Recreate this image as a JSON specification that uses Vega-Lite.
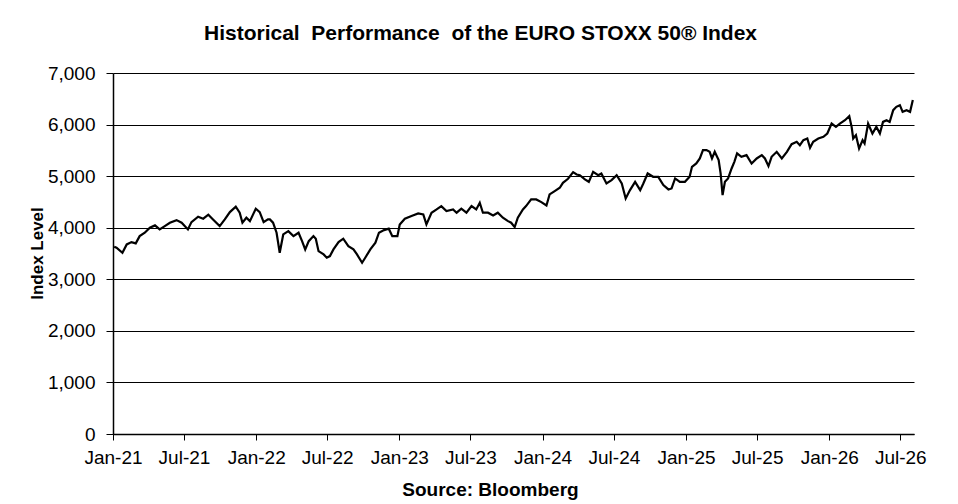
{
  "$schema": "https://vega.github.io/schema/vega-lite/v6.json",
  "width": 801,
  "height": 361,
  "autosize": {"type": "none"},
  "padding": {"left": 113, "top": 73, "right": 44, "bottom": 70},
  "background": "white",
  "title": {
    "text": "Historical \u00a0Performance \u00a0of the EURO STOXX 50® Index",
    "font": "Liberation Sans",
    "fontSize": 21,
    "fontWeight": "bold",
    "color": "black",
    "anchor": "middle",
    "frame": "group",
    "baseline": "alphabetic",
    "offset": 3,
    "dx": -33
  },
  "config": {
    "view": {"stroke": null},
    "font": "Liberation Sans"
  },
  "data": {
    "values": [
      {"d": "2021-01-04", "v": 3632}, {"d": "2021-01-10", "v": 3612}, {"d": "2021-01-25", "v": 3515}, {"d": "2021-02-05", "v": 3676},
      {"d": "2021-02-17", "v": 3721}, {"d": "2021-02-28", "v": 3696}, {"d": "2021-03-10", "v": 3837}, {"d": "2021-03-23", "v": 3903},
      {"d": "2021-04-05", "v": 4000}, {"d": "2021-04-18", "v": 4045}, {"d": "2021-04-30", "v": 3967}, {"d": "2021-05-13", "v": 4031},
      {"d": "2021-05-26", "v": 4097}, {"d": "2021-06-12", "v": 4147}, {"d": "2021-06-25", "v": 4097}, {"d": "2021-07-11", "v": 3967},
      {"d": "2021-07-20", "v": 4109}, {"d": "2021-08-06", "v": 4213}, {"d": "2021-08-19", "v": 4175}, {"d": "2021-09-01", "v": 4252},
      {"d": "2021-09-13", "v": 4161}, {"d": "2021-09-30", "v": 4031}, {"d": "2021-10-13", "v": 4161}, {"d": "2021-10-26", "v": 4303},
      {"d": "2021-11-10", "v": 4407}, {"d": "2021-11-20", "v": 4291}, {"d": "2021-11-27", "v": 4097}, {"d": "2021-12-07", "v": 4194},
      {"d": "2021-12-16", "v": 4128}, {"d": "2021-12-31", "v": 4368}, {"d": "2022-01-10", "v": 4303}, {"d": "2022-01-20", "v": 4109},
      {"d": "2022-01-31", "v": 4161}, {"d": "2022-02-05", "v": 4161}, {"d": "2022-02-13", "v": 4097}, {"d": "2022-02-22", "v": 3903},
      {"d": "2022-03-02", "v": 3515}, {"d": "2022-03-11", "v": 3870}, {"d": "2022-03-24", "v": 3934}, {"d": "2022-04-06", "v": 3837},
      {"d": "2022-04-19", "v": 3903}, {"d": "2022-04-28", "v": 3740}, {"d": "2022-05-06", "v": 3579}, {"d": "2022-05-15", "v": 3740},
      {"d": "2022-05-27", "v": 3837}, {"d": "2022-06-02", "v": 3787}, {"d": "2022-06-09", "v": 3546}, {"d": "2022-06-22", "v": 3482},
      {"d": "2022-06-30", "v": 3418}, {"d": "2022-07-08", "v": 3450}, {"d": "2022-07-17", "v": 3579}, {"d": "2022-07-30", "v": 3721},
      {"d": "2022-08-11", "v": 3787}, {"d": "2022-08-24", "v": 3643}, {"d": "2022-09-06", "v": 3579}, {"d": "2022-09-15", "v": 3482},
      {"d": "2022-09-28", "v": 3321}, {"d": "2022-10-06", "v": 3418}, {"d": "2022-10-19", "v": 3579}, {"d": "2022-11-01", "v": 3709},
      {"d": "2022-11-10", "v": 3903}, {"d": "2022-11-23", "v": 3953}, {"d": "2022-12-05", "v": 3981}, {"d": "2022-12-14", "v": 3837},
      {"d": "2022-12-27", "v": 3837}, {"d": "2023-01-02", "v": 4064}, {"d": "2023-01-15", "v": 4175}, {"d": "2023-02-01", "v": 4226},
      {"d": "2023-02-18", "v": 4277}, {"d": "2023-03-03", "v": 4258}, {"d": "2023-03-11", "v": 4064}, {"d": "2023-03-24", "v": 4291},
      {"d": "2023-04-06", "v": 4355}, {"d": "2023-04-18", "v": 4419}, {"d": "2023-05-01", "v": 4322}, {"d": "2023-05-18", "v": 4355},
      {"d": "2023-05-27", "v": 4291}, {"d": "2023-06-08", "v": 4368}, {"d": "2023-06-21", "v": 4291}, {"d": "2023-07-04", "v": 4419},
      {"d": "2023-07-16", "v": 4355}, {"d": "2023-07-25", "v": 4484}, {"d": "2023-08-02", "v": 4291}, {"d": "2023-08-15", "v": 4291},
      {"d": "2023-08-28", "v": 4239}, {"d": "2023-09-09", "v": 4291}, {"d": "2023-09-22", "v": 4194}, {"d": "2023-10-05", "v": 4128},
      {"d": "2023-10-13", "v": 4097}, {"d": "2023-10-22", "v": 4012}, {"d": "2023-10-30", "v": 4194}, {"d": "2023-11-12", "v": 4355},
      {"d": "2023-11-20", "v": 4419}, {"d": "2023-12-03", "v": 4548}, {"d": "2023-12-16", "v": 4548}, {"d": "2023-12-29", "v": 4497},
      {"d": "2024-01-11", "v": 4432}, {"d": "2024-01-19", "v": 4645}, {"d": "2024-02-01", "v": 4710}, {"d": "2024-02-14", "v": 4774},
      {"d": "2024-02-22", "v": 4871}, {"d": "2024-03-06", "v": 4949}, {"d": "2024-03-19", "v": 5077}, {"d": "2024-03-28", "v": 5032},
      {"d": "2024-04-05", "v": 5019}, {"d": "2024-04-18", "v": 4936}, {"d": "2024-04-28", "v": 4890}, {"d": "2024-05-09", "v": 5084},
      {"d": "2024-05-22", "v": 5019}, {"d": "2024-05-30", "v": 5052}, {"d": "2024-06-12", "v": 4858}, {"d": "2024-06-25", "v": 4923},
      {"d": "2024-07-08", "v": 5019}, {"d": "2024-07-21", "v": 4858}, {"d": "2024-07-31", "v": 4567}, {"d": "2024-08-11", "v": 4729},
      {"d": "2024-08-24", "v": 4890}, {"d": "2024-09-06", "v": 4729}, {"d": "2024-09-14", "v": 4858}, {"d": "2024-09-25", "v": 5052},
      {"d": "2024-10-09", "v": 4987}, {"d": "2024-10-22", "v": 4987}, {"d": "2024-11-04", "v": 4826}, {"d": "2024-11-17", "v": 4742},
      {"d": "2024-11-25", "v": 4761}, {"d": "2024-12-04", "v": 4955}, {"d": "2024-12-16", "v": 4890}, {"d": "2024-12-29", "v": 4890},
      {"d": "2025-01-10", "v": 4987}, {"d": "2025-01-16", "v": 5181}, {"d": "2025-01-27", "v": 5246}, {"d": "2025-02-05", "v": 5343},
      {"d": "2025-02-13", "v": 5504}, {"d": "2025-02-22", "v": 5504}, {"d": "2025-03-02", "v": 5472}, {"d": "2025-03-08", "v": 5343},
      {"d": "2025-03-15", "v": 5472}, {"d": "2025-03-25", "v": 5310}, {"d": "2025-03-30", "v": 5052}, {"d": "2025-04-04", "v": 4632},
      {"d": "2025-04-10", "v": 4890}, {"d": "2025-04-18", "v": 4955}, {"d": "2025-04-27", "v": 5149}, {"d": "2025-05-04", "v": 5278},
      {"d": "2025-05-11", "v": 5440}, {"d": "2025-05-22", "v": 5375}, {"d": "2025-06-04", "v": 5407}, {"d": "2025-06-17", "v": 5246},
      {"d": "2025-06-30", "v": 5343}, {"d": "2025-07-13", "v": 5407}, {"d": "2025-07-21", "v": 5343}, {"d": "2025-07-30", "v": 5194},
      {"d": "2025-08-07", "v": 5375}, {"d": "2025-08-20", "v": 5472}, {"d": "2025-09-02", "v": 5343}, {"d": "2025-09-15", "v": 5472},
      {"d": "2025-09-27", "v": 5620}, {"d": "2025-10-10", "v": 5665}, {"d": "2025-10-18", "v": 5601}, {"d": "2025-10-27", "v": 5698},
      {"d": "2025-11-06", "v": 5730}, {"d": "2025-11-13", "v": 5550}, {"d": "2025-11-21", "v": 5665}, {"d": "2025-12-04", "v": 5730},
      {"d": "2025-12-17", "v": 5762}, {"d": "2025-12-27", "v": 5827}, {"d": "2026-01-07", "v": 6020}, {"d": "2026-01-18", "v": 5956},
      {"d": "2026-01-28", "v": 6020}, {"d": "2026-02-10", "v": 6085}, {"d": "2026-02-21", "v": 6163}, {"d": "2026-02-27", "v": 5956},
      {"d": "2026-03-03", "v": 5730}, {"d": "2026-03-10", "v": 5795}, {"d": "2026-03-18", "v": 5536}, {"d": "2026-03-27", "v": 5698},
      {"d": "2026-04-01", "v": 5634}, {"d": "2026-04-10", "v": 6020}, {"d": "2026-04-21", "v": 5827}, {"d": "2026-05-01", "v": 5956},
      {"d": "2026-05-10", "v": 5827}, {"d": "2026-05-18", "v": 6052}, {"d": "2026-05-27", "v": 6085}, {"d": "2026-06-04", "v": 6052},
      {"d": "2026-06-13", "v": 6279}, {"d": "2026-06-21", "v": 6344}, {"d": "2026-06-30", "v": 6376}, {"d": "2026-07-07", "v": 6247},
      {"d": "2026-07-17", "v": 6279}, {"d": "2026-07-26", "v": 6247}, {"d": "2026-08-02", "v": 6477}
    ]
  },
  "mark": {"type": "line", "color": "black", "strokeWidth": 2.2, "clip": true},
  "encoding": {
    "x": {
      "field": "d",
      "type": "temporal",
      "scale": {
        "domain": [
          {"year": 2021, "month": 1, "date": 1},
          {"year": 2026, "month": 8, "date": 5}
        ]
      },
      "axis": {
        "values": [
          {"year": 2021, "month": 1, "date": 1},
          {"year": 2021, "month": 7, "date": 1},
          {"year": 2022, "month": 1, "date": 1},
          {"year": 2022, "month": 7, "date": 1},
          {"year": 2023, "month": 1, "date": 1},
          {"year": 2023, "month": 7, "date": 1},
          {"year": 2024, "month": 1, "date": 1},
          {"year": 2024, "month": 7, "date": 1},
          {"year": 2025, "month": 1, "date": 1},
          {"year": 2025, "month": 7, "date": 1},
          {"year": 2026, "month": 1, "date": 1},
          {"year": 2026, "month": 7, "date": 1}
        ],
        "format": "%b-%y",
        "grid": false,
        "domainColor": "black",
        "domainWidth": 1.5,
        "tickColor": "black",
        "tickSize": 6,
        "labelFont": "Liberation Sans",
        "labelFontSize": 19,
        "labelColor": "black",
        "labelPadding": 8,
        "labelFlush": false,
        "labelOverlap": false,
        "title": "Source: Bloomberg",
        "titleFont": "Liberation Sans",
        "titleFontSize": 19,
        "titleFontWeight": "bold",
        "titleColor": "black",
        "titleX": 377,
        "titleY": 61,
        "titleBaseline": "alphabetic",
        "titleAlign": "center"
      }
    },
    "y": {
      "field": "v",
      "type": "quantitative",
      "scale": {"domain": [0, 7000], "nice": false, "zero": true},
      "axis": {
        "values": [0, 1000, 2000, 3000, 4000, 5000, 6000, 7000],
        "format": ",.0f",
        "grid": true,
        "gridColor": "black",
        "gridWidth": 1,
        "gridOpacity": 1,
        "domainColor": "black",
        "domainWidth": 1.5,
        "tickColor": "black",
        "tickSize": 7,
        "labelFont": "Liberation Sans",
        "labelFontSize": 19,
        "labelColor": "black",
        "labelPadding": 11,
        "title": "Index Level",
        "titleFont": "Liberation Sans",
        "titleFontSize": 17,
        "titleFontWeight": "bold",
        "titleColor": "black",
        "titleX": -71,
        "titleY": 180,
        "titleBaseline": "alphabetic",
        "titleAlign": "center",
        "titleAngle": -90
      }
    }
  }
}
